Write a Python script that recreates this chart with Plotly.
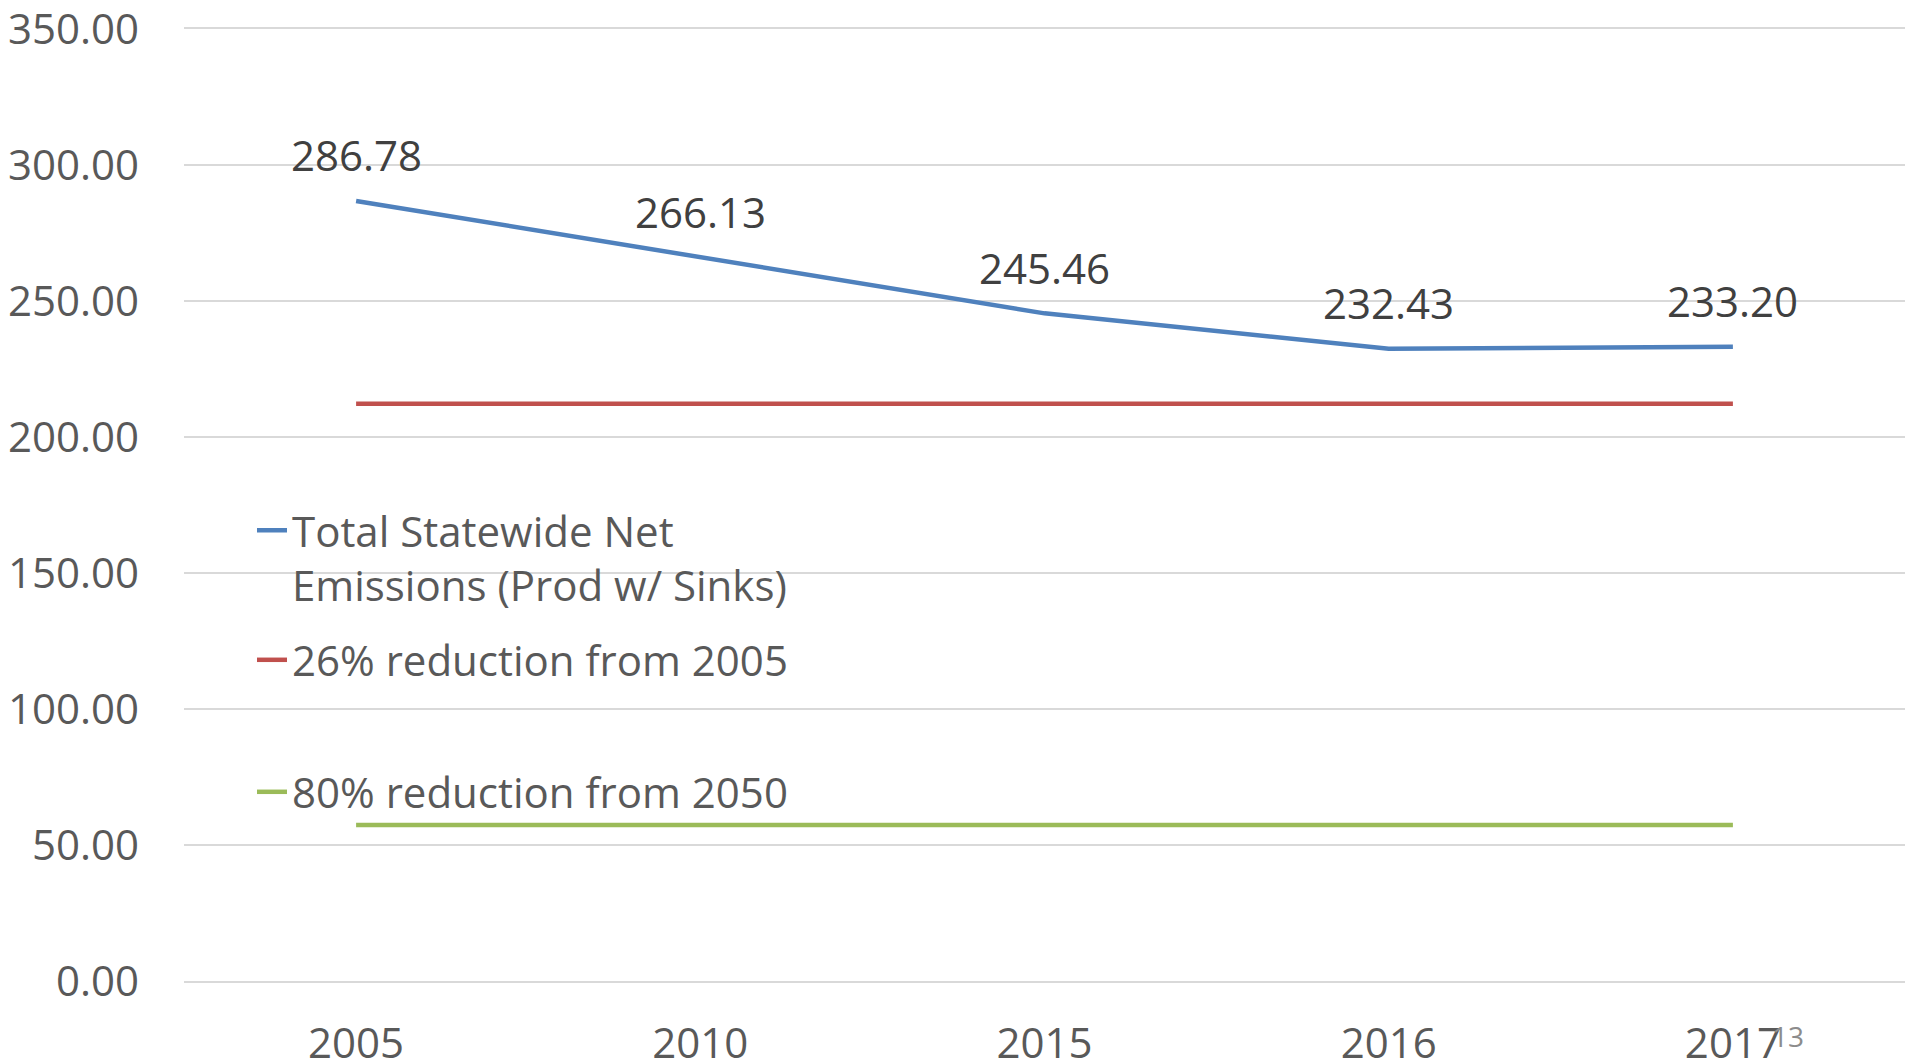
import plotly.graph_objects as go

years = ["2005", "2010", "2015", "2016", "2017"]
total_net = [286.78, 266.13, 245.46, 232.43, 233.20]
target_26 = [212.22, 212.22, 212.22, 212.22, 212.22]
target_80 = [57.36, 57.36, 57.36, 57.36, 57.36]
y_ticks = [0, 50, 100, 150, 200, 250, 300, 350]
y_tick_labels = ["0.00", "50.00", "100.00", "150.00", "200.00", "250.00", "300.00", "350.00"]

FONT = "Open Sans, Noto Sans, sans-serif"
FS = 42
GRAY = "#595959"
GRID = "#d9d9d9"

W, H = 1905, 1062
L, R, T, B = 184, 0, 29, 81
pw, ph = W - L - R, H - T - B

def px(xp):
    return (xp - L) / pw

def py(yp):
    return (H - B - yp) / ph

fig = go.Figure()
fig.add_trace(go.Scatter(
    x=years, y=total_net, mode="lines",
    name="Total Statewide Net<br>Emissions (Prod w/ Sinks)",
    line=dict(color="#4F81BD", width=4.5), legend="legend",
))
fig.add_trace(go.Scatter(
    x=years, y=target_26, mode="lines",
    name="26% reduction from 2005",
    line=dict(color="#C0504D", width=4.5), legend="legend2",
))
fig.add_trace(go.Scatter(
    x=years, y=target_80, mode="lines",
    name="80% reduction from 2050",
    line=dict(color="#9BBB59", width=4.5), legend="legend3",
))

for i, yv in enumerate(total_net):
    fig.add_annotation(x=i, y=yv, text=f"{yv:.2f}", showarrow=False,
                       yshift=46, font=dict(family=FONT, size=FS, color="#404040"))

fig.add_annotation(xref="paper", yref="paper", x=px(1788), y=py(1036),
                   text="13", showarrow=False, xanchor="center", yanchor="middle",
                   font=dict(family=FONT, size=28, color="#8c8c8c"))

leg_common = dict(xanchor="left", yanchor="middle", bgcolor="rgba(0,0,0,0)",
                  font=dict(family=FONT, size=FS, color=GRAY), valign="top",
                  itemwidth=30)

fig.update_layout(
    width=W, height=H,
    margin=dict(l=L, r=R, t=T, b=B),
    plot_bgcolor="white", paper_bgcolor="white",
    font=dict(family=FONT, size=FS, color=GRAY),
    showlegend=True,
    legend=dict(x=px(252), y=py(558), **leg_common),
    legend2=dict(x=px(252), y=py(660), **leg_common),
    legend3=dict(x=px(252), y=py(792), **leg_common),
    xaxis=dict(type="category", range=[-0.5, 4.5], showgrid=False, zeroline=False,
               showline=True, linecolor=GRID, linewidth=1.5, mirror=True,
               ticks="", ticklabelstandoff=25, automargin=False,
               ticklabeloverflow="allow",
               tickfont=dict(family=FONT, size=FS, color=GRAY)),
    yaxis=dict(range=[0, 350], tickvals=y_ticks, ticktext=y_tick_labels,
               showgrid=True, gridcolor=GRID, gridwidth=1.5, zeroline=False,
               showline=False, ticks="", ticklabelstandoff=44, automargin=False,
               ticklabeloverflow="allow",
               tickfont=dict(family=FONT, size=FS, color=GRAY)),
)

fig.write_html(
    "out.html",
    config={"displayModeBar": False},
    post_script="document.body.style.margin='0';document.body.style.overflow='hidden';",
)
